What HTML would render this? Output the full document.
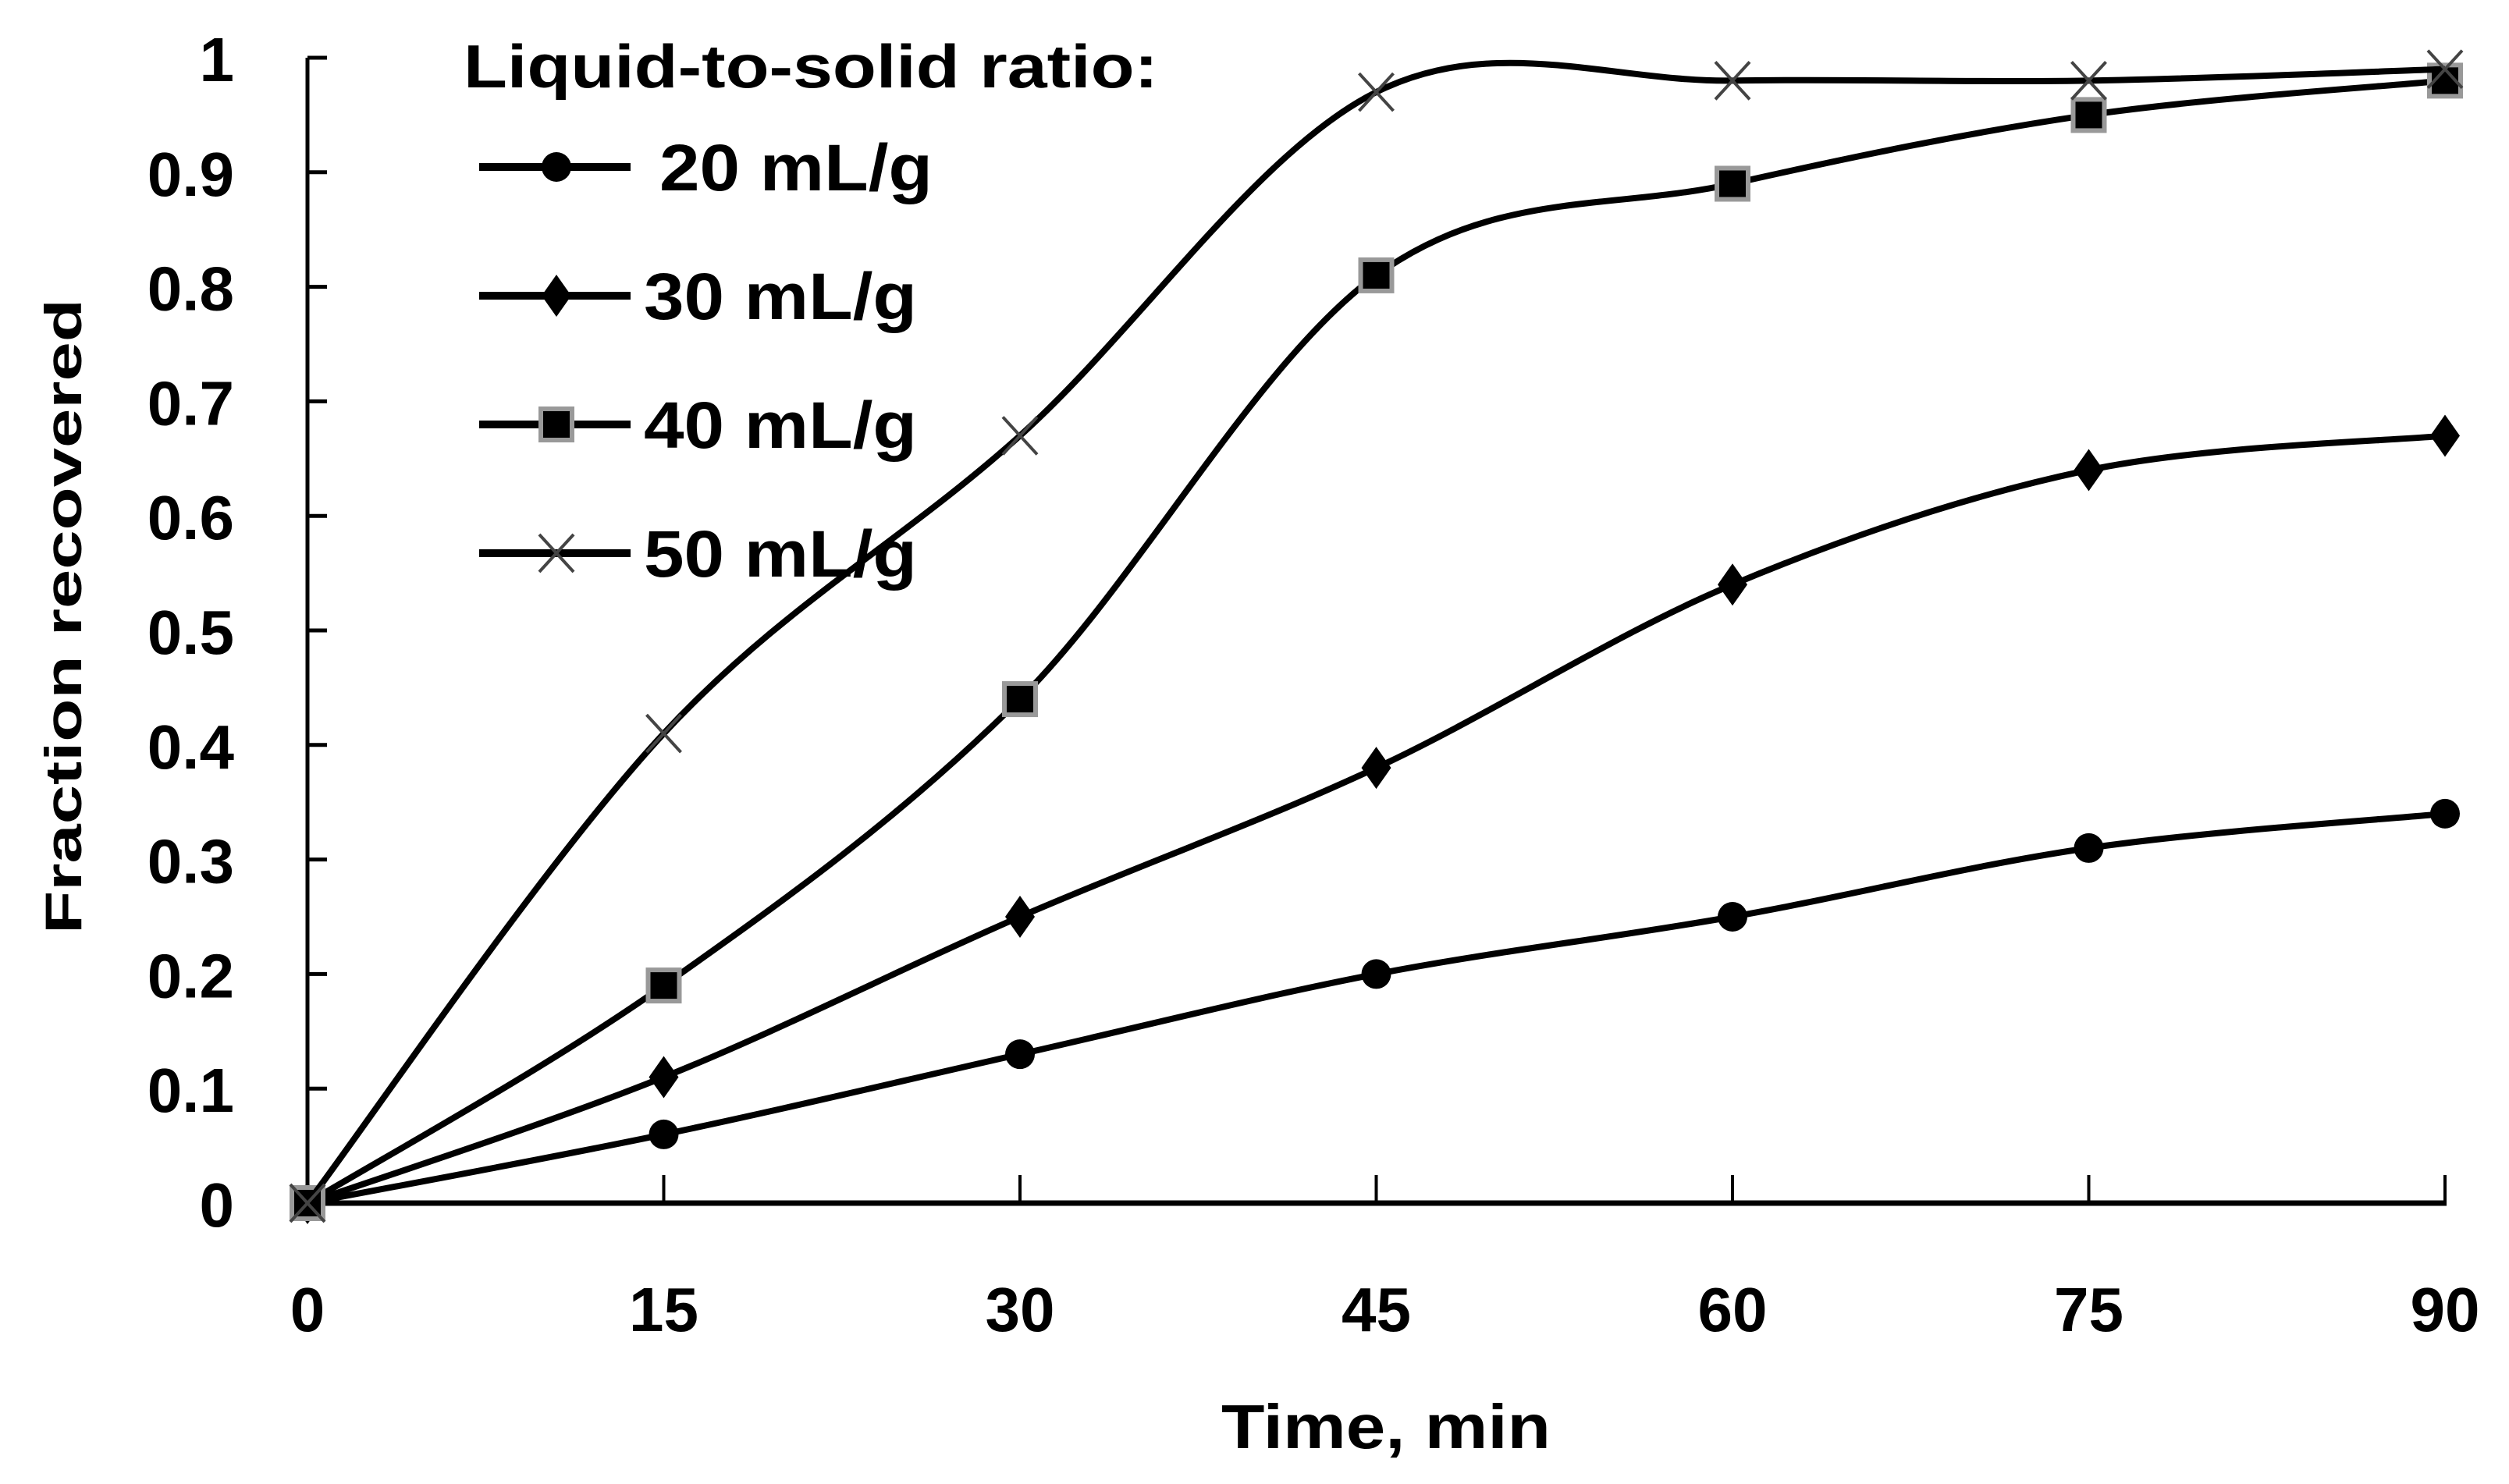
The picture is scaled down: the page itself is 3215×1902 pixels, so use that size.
<!DOCTYPE html>
<html><head><meta charset="utf-8"><style>
html,body{margin:0;padding:0;background:#fff}
svg{display:block}
text{font-family:"Liberation Sans",sans-serif;font-weight:bold;fill:#000}
</style></head><body>
<svg id="chart" width="3215" height="1902" viewBox="0 0 3215 1902" xmlns="http://www.w3.org/2000/svg">
<g id="axes"></g>
<g id="series"></g>
<g id="legend"></g>
<text x="0" y="0" transform="translate(104,790) rotate(-90)" text-anchor="middle" font-size="66" textLength="814" lengthAdjust="spacingAndGlyphs">Fraction recovered</text>
<text x="1776" y="1856" text-anchor="middle" font-size="80" textLength="422" lengthAdjust="spacingAndGlyphs">Time, min</text>
</svg>
<script>
const categories=[0,15,30,45,60,75,90];
const yTicks=[0,0.1,0.2,0.3,0.4,0.5,0.6,0.7,0.8,0.9,1];
const yTickLabels=["0","0.1","0.2","0.3","0.4","0.5","0.6","0.7","0.8","0.9","1"];
const seriesNames=["20 mL/g","30 mL/g","40 mL/g","50 mL/g"];
const s20=[0,0.06,0.13,0.20,0.25,0.31,0.34];
const s30=[0,0.11,0.25,0.38,0.54,0.64,0.67];
const s40=[0,0.19,0.44,0.81,0.89,0.95,0.98];
const s50=[0,0.41,0.67,0.97,0.98,0.98,0.99];
const markers=["circle","diamond","square","x"];
const allSeries=[s20,s30,s40,s50];

const NS="http://www.w3.org/2000/svg";
const X0=394,X1=3133,Y0=1542,Y1=74;
const xs=v=>X0+(v-0)/(90-0)*(X1-X0);
const ys=v=>Y0-(v-0)/(1-0)*(Y0-Y1);
function mk(tag,attrs,parent){const e=document.createElementNS(NS,tag);for(const k in attrs)e.setAttribute(k,attrs[k]);parent.appendChild(e);return e;}
const axes=document.getElementById('axes');
let e=mk('line',{x1:X0,y1:Y1,x2:X0,y2:Y0,stroke:'#000','stroke-width':5},axes);


e=mk('line',{x1:X0,y1:Y0,x2:X1+2,y2:Y0,stroke:'#000','stroke-width':7},axes);


yTicks.forEach((t,i)=>{
  let l=mk('line',{x1:X0,y1:ys(t),x2:X0+25,y2:ys(t),stroke:'#000','stroke-width':5},axes);
  
  
  let tx=mk('text',{x:300,y:ys(t)+30,'text-anchor':'end','font-size':80},axes);
  tx.textContent=yTickLabels[i];
  
  
});
categories.forEach(c=>{
  let l=mk('line',{x1:xs(c),y1:Y0,x2:xs(c),y2:Y0-36,stroke:'#000','stroke-width':4},axes);
  
  
  let tx=mk('text',{x:xs(c),y:1706,'text-anchor':'middle','font-size':80},axes);
  tx.textContent=String(c);
  
  
});
function smooth(pts){
  let d=`M${pts[0][0]},${pts[0][1]}`;
  for(let i=0;i<pts.length-1;i++){
    const p0=pts[Math.max(0,i-1)],p1=pts[i],p2=pts[i+1],p3=pts[Math.min(pts.length-1,i+2)];
    const t=1/6;
    d+=` C${p1[0]+(p2[0]-p0[0])*t},${p1[1]+(p2[1]-p0[1])*t} ${p2[0]-(p3[0]-p1[0])*t},${p2[1]-(p3[1]-p1[1])*t} ${p2[0]},${p2[1]}`;
  }
  return d;
}
function marker(type,x,y,parent){
  let m;
  if(type==='circle') m=mk('circle',{cx:x,cy:y,r:19,fill:'#000'},parent);
  else if(type==='diamond') m=mk('polygon',{points:`${x},${y-27} ${x+19},${y} ${x},${y+27} ${x-19},${y}`,fill:'#000'},parent);
  else if(type==='square') m=mk('rect',{x:x-20,y:y-20,width:40,height:40,fill:'#000',stroke:'#999','stroke-width':6},parent);
  else m=mk('path',{d:`M${x-22},${y-24}L${x+22},${y+24}M${x+22},${y-24}L${x-22},${y+24}`,stroke:'#444','stroke-width':4,fill:'none'},parent);
  return m;
}
const sg=document.getElementById('series');
allSeries.forEach((s,si)=>{
  const g=mk('g',{},sg);
  
  
  const pts=s.map((v,i)=>[xs(categories[i]),ys(v)]);
  const p=mk('path',{d:smooth(pts),fill:'none',stroke:'#000','stroke-width':8},g);
  
  
  pts.forEach(pt=>{
    const m=marker(markers[si],pt[0],pt[1],g);
    
    
  });
});
const lg=document.getElementById('legend');
let tt=mk('text',{x:594,y:112,'font-size':78,textLength:890,lengthAdjust:'spacingAndGlyphs'},lg);
tt.textContent='Liquid-to-solid ratio:';


const legY=[214,379,544,709];
seriesNames.forEach((n,i)=>{
  const g=mk('g',{},lg);
  
  
  mk('line',{x1:614,y1:legY[i],x2:808,y2:legY[i],stroke:'#000','stroke-width':10},g);
  marker(markers[i],713,legY[i],g);
  const t=mk('text',{x:i===0?845:825,y:legY[i]+30,'font-size':84,textLength:350,lengthAdjust:'spacingAndGlyphs'},g);
  t.textContent=n;
});
</script>
</body></html>
